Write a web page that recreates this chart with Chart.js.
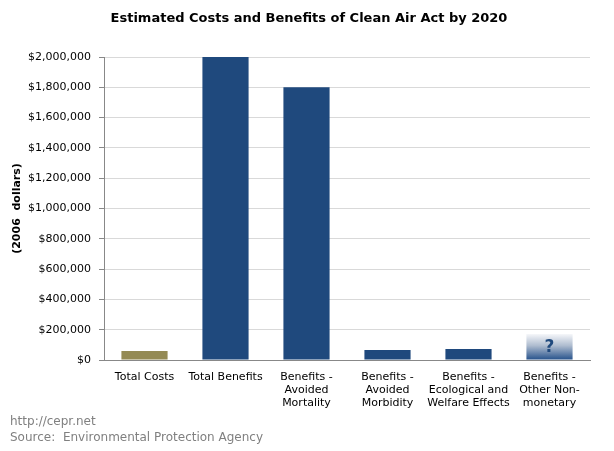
<!DOCTYPE html>
<html><head><meta charset="utf-8">
<script src="https://cdn.jsdelivr.net/npm/chart.js@4.4.1/dist/chart.umd.min.js"></script>
<style>
html,body{margin:0;padding:0;background:#fff;}
#wrap{position:relative;width:614px;height:451px;}
#title{position:absolute;left:0;width:618px;top:10px;text-align:center;font:bold 13px "DejaVu Sans",Verdana,sans-serif;color:#000;line-height:16px;white-space:nowrap;}
#src{position:absolute;left:10px;top:413px;font:12px "DejaVu Sans",Verdana,sans-serif;color:#808080;line-height:16px;white-space:pre;}
</style></head><body>
<div id="wrap"><canvas id="c"></canvas>
<div id="title"></div>
<div id="src">http://cepr.net
Source:  Environmental Protection Agency</div></div>
<script>
const categories = [
  ['Total Costs'],
  ['Total Benefits'],
  ['Benefits -', 'Avoided', 'Mortality'],
  ['Benefits -', 'Avoided', 'Morbidity'],
  ['Benefits -', 'Ecological and', 'Welfare Effects'],
  ['Benefits -', 'Other Non-', 'monetary']
];
const values = [60000, 2000000, 1800000, 66000, 72600, 172000];
const barKinds = ['cost', 'benefit', 'benefit', 'benefit', 'benefit', 'unknown'];
const barMarks = ['', '', '', '', '', '?'];
const yMin = 0, yMax = 2000000, yStep = 200000;
const titleText = 'Estimated Costs and Benefits of Clean Air Act by 2020';
const yTitle = '(2006  dollars)';

document.getElementById('title').textContent = titleText;

const FONT = '"DejaVu Sans", Verdana, sans-serif';
const BLUE = '#1f497d';
const OLIVE = '#948a54';

function barColor(ctx) {
  const i = ctx.dataIndex;
  const kind = barKinds[i];
  if (kind === 'cost') return OLIVE;
  if (kind === 'benefit') return BLUE;
  const chart = ctx.chart;
  if (!chart.chartArea) return BLUE;
  const ys = chart.scales.y;
  const y0 = ys.getPixelForValue(0);
  const y1 = ys.getPixelForValue(values[i]);
  const g = chart.ctx.createLinearGradient(0, y1, 0, y0);
  g.addColorStop(0, '#f6f7fa');
  g.addColorStop(0.45, '#aebccf');
  g.addColorStop(1, '#24508a');
  return g;
}

const markPlugin = {
  id: 'markPlugin',
  afterDatasetsDraw(chart) {
    const meta = chart.getDatasetMeta(0);
    const c = chart.ctx;
    c.save();
    c.font = 'bold 17px ' + FONT;
    c.fillStyle = BLUE;
    c.textAlign = 'center';
    c.textBaseline = 'middle';
    meta.data.forEach((bar, i) => {
      if (!barMarks[i]) return;
      c.fillText(barMarks[i], bar.x, (bar.y + bar.base) / 2 + 1);
    });
    c.restore();
  }
};

new Chart(document.getElementById('c'), {
  type: 'bar',
  data: {
    labels: categories,
    datasets: [{
      data: values,
      backgroundColor: barColor,
      borderWidth: 0,
      barPercentage: 0.57,
      categoryPercentage: 1.0
    }]
  },
  plugins: [markPlugin],
  options: {
    responsive: true,
    maintainAspectRatio: false,
    animation: false,
    devicePixelRatio: 1,
    layout: { padding: { left: 0, right: 24, top: 57, bottom: 40 } },
    plugins: {
      legend: { display: false },
      tooltip: { enabled: false },
      title: { display: false }
    },
    scales: {
      x: {
        grid: { display: false, drawTicks: false },
        border: { display: true, color: '#888888', width: 1 },
        ticks: {
          color: '#000',
          font: { family: FONT, size: 11, lineHeight: '13px' },
          padding: 11,
          maxRotation: 0,
          autoSkip: false
        },
        afterFit(scale) { scale.height = 51; }
      },
      y: {
        min: yMin,
        max: yMax,
        grid: { color: '#d9d9d9', tickColor: '#888888', tickLength: 5, drawTicks: true },
        border: { display: true, color: '#888888', width: 1 },
        ticks: {
          stepSize: yStep,
          color: '#000',
          font: { family: FONT, size: 11 },
          padding: 8,
          callback: v => '$' + Number(v).toLocaleString('en-US')
        },
        title: {
          display: true,
          text: yTitle,
          color: '#000',
          font: { family: FONT, size: 11, weight: 'bold' },
          padding: { top: 11, bottom: 0 }
        },
        afterFit(scale) { scale.width = 104; }
      }
    }
  }
});
</script>
</body></html>
